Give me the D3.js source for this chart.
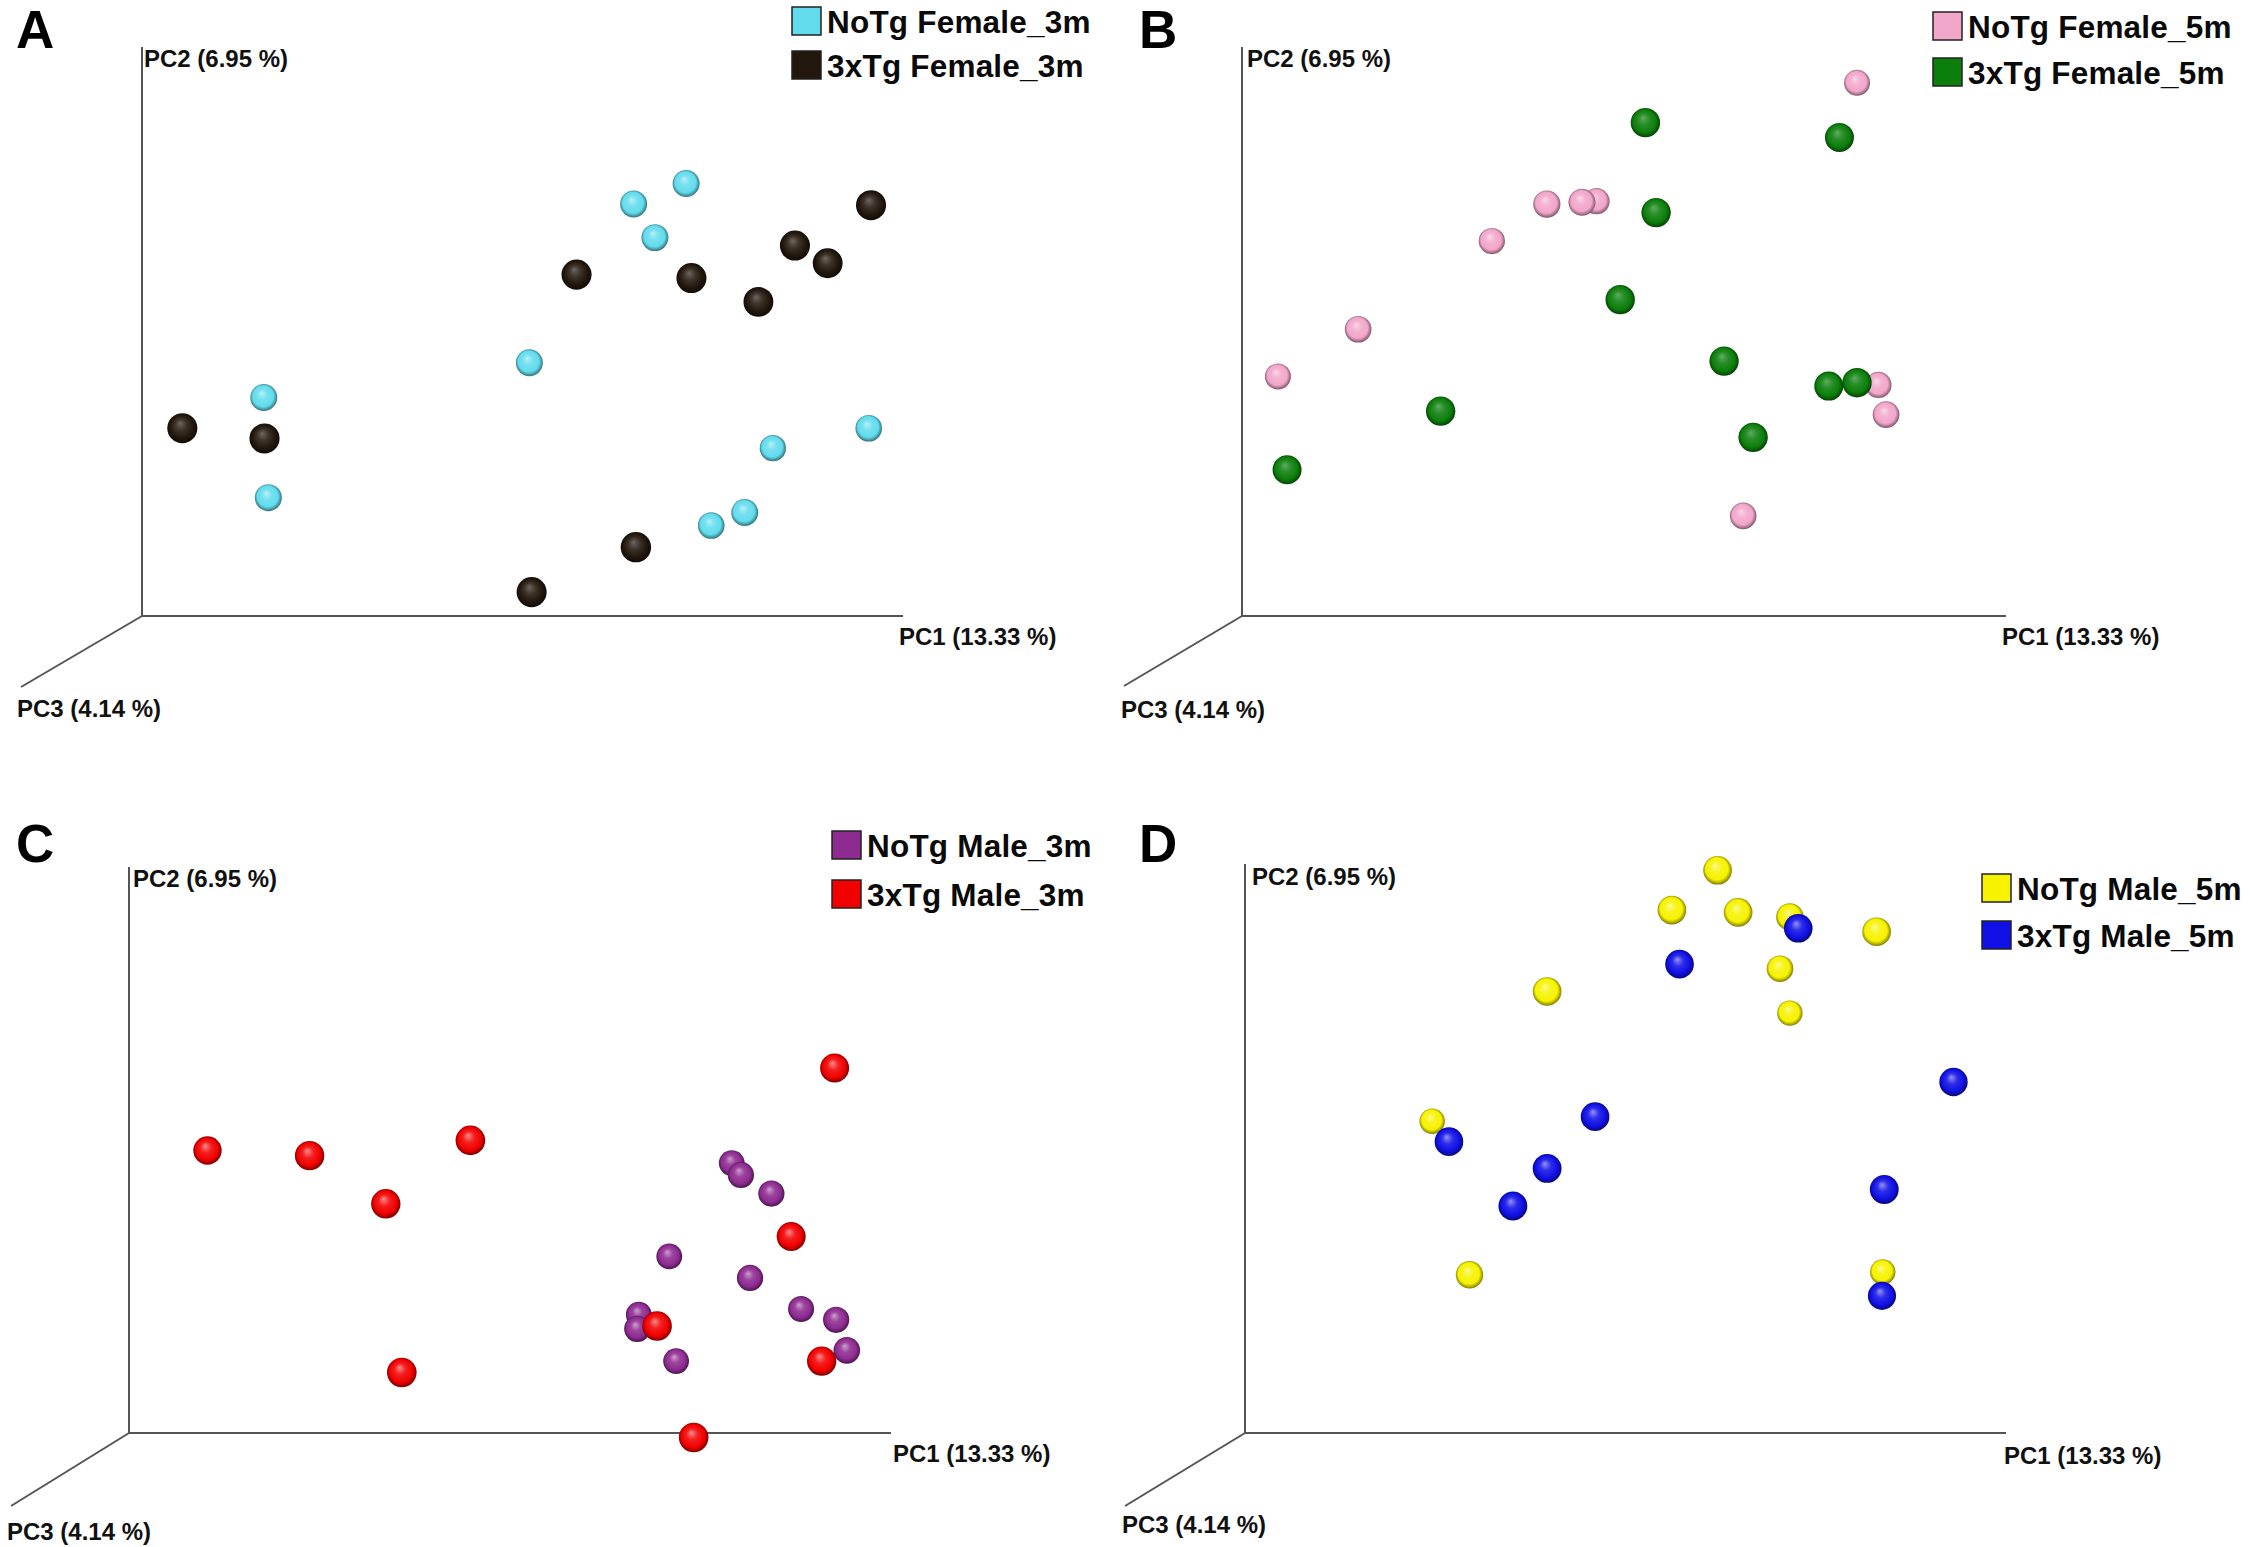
<!DOCTYPE html>
<html>
<head>
<meta charset="utf-8">
<script src="https://cdn.jsdelivr.net/npm/d3@7.9.0/dist/d3.min.js"></script>
<style>
  html, body { margin: 0; padding: 0; background: #fff; }
  svg { display: block; }
  text { font-family: "Liberation Sans", Arial, sans-serif; font-weight: bold; fill: #111; }
</style>
</head>
<body>
<svg id="chart" width="2250" height="1547"></svg>
<script>
// axis titles shared by all four panels
const axisTitles = { pc1: 'PC1 (13.33 %)', pc2: 'PC2 (6.95 %)', pc3: 'PC3 (4.14 %)' };
const panelLetters = ['A', 'B', 'C', 'D'];

// group names (legend order) per panel
const groupNames = [
  ['NoTg Female_3m', '3xTg Female_3m'],
  ['NoTg Female_5m', '3xTg Female_5m'],
  ['NoTg Male_3m', '3xTg Male_3m'],
  ['NoTg Male_5m', '3xTg Male_5m']
];
const groupColors = [
  ['#62dced', '#21170c'],
  ['#f2a6ca', '#0b7f0b'],
  ['#8e2b91', '#f20000'],
  ['#f6f200', '#1010e6']
];

// projected PCoA scores, [pc1, pc2, pc3], axis units 0-100
const noTgFemale3m = [
  [71.5, 76.0, 58], [64.6, 72.4, 58], [67.4, 66.5, 58], [50.9, 44.5, 58], [16.0, 38.4, 58],
  [16.6, 20.8, 58], [82.9, 29.5, 52], [79.2, 18.2, 58], [74.8, 15.9, 55], [95.5, 33.0, 55]
];
const tgFemale3m = [
  [95.8, 72.2, 84], [85.8, 65.1, 84], [90.1, 62.0, 82], [57.1, 60.0, 84], [72.2, 59.4, 84],
  [81.0, 55.2, 82], [5.3, 33.0, 84], [16.1, 31.2, 84], [64.9, 12.1, 87], [51.2, 4.2, 84]
];
const noTgFemale5m = [
  [80.5, 93.7, 50], [39.9, 72.4, 60], [44.5, 72.7, 58], [46.4, 72.9, 52], [32.7, 65.9, 52],
  [15.2, 50.4, 55], [4.7, 42.1, 50], [83.3, 40.6, 52], [84.3, 35.4, 56], [65.6, 17.6, 55]
];
const tgFemale5m = [
  [52.8, 86.7, 78], [78.2, 84.1, 75], [54.2, 70.9, 78], [49.5, 55.6, 78], [63.1, 44.8, 78],
  [76.8, 40.4, 75], [80.5, 41.0, 78], [26.0, 36.0, 78], [66.9, 31.4, 78], [5.9, 25.7, 75]
];
const noTgMale3m = [
  [79.1, 47.7, 48], [80.3, 45.6, 52], [84.3, 42.3, 52], [70.9, 31.2, 48], [81.5, 27.4, 52],
  [88.2, 21.9, 50], [92.8, 20.0, 52], [66.9, 20.9, 48], [66.7, 18.4, 52], [94.2, 14.6, 55],
  [71.8, 12.7, 48]
];
const tgMale3m = [
  [92.6, 64.5, 75], [10.3, 49.9, 70], [23.7, 49.0, 78], [44.8, 51.7, 80], [33.7, 40.5, 78],
  [86.9, 34.7, 75], [69.3, 18.9, 80], [90.9, 12.7, 78], [35.8, 10.7, 80], [74.1, -0.8, 80]
];
const noTgMale5m = [
  [62.1, 98.9, 72], [56.1, 91.9, 72], [64.8, 91.5, 72], [71.6, 90.7, 62], [83.0, 88.1, 72],
  [70.3, 81.6, 55], [71.6, 73.8, 45], [39.7, 77.6, 72], [24.6, 54.8, 45], [29.5, 27.8, 62],
  [83.8, 28.3, 45]
];
const tgMale5m = [
  [72.7, 88.7, 72], [57.1, 82.4, 72], [93.1, 61.7, 70], [46.0, 55.6, 72], [26.8, 51.2, 72],
  [39.7, 46.5, 74], [35.2, 39.9, 74], [84.0, 42.8, 74], [83.7, 24.1, 68]
];
const panelData = [
  [noTgFemale3m, tgFemale3m],
  [noTgFemale5m, tgFemale5m],
  [noTgMale3m, tgMale3m],
  [noTgMale5m, tgMale5m]
];

// panel frames (pixel layout)
const frames = [
  { ox: 142,  oy: 616,  xEnd: 903,  yTop: 47,  dx: 21,   dy: 687,
    pc1: [899, 645],  pc2: [144, 67],   pc3: [17, 717],    letter: [16, 48],
    legend: { x: 792, y: 7, step: 44, tx: 827 } },
  { ox: 1242, oy: 616,  xEnd: 2006, yTop: 47,  dx: 1124, dy: 686,
    pc1: [2002, 645], pc2: [1247, 67],  pc3: [1121, 718],  letter: [1139, 48],
    legend: { x: 1933, y: 12, step: 46, tx: 1968 } },
  { ox: 129,  oy: 1433, xEnd: 891,  yTop: 867, dx: 11,   dy: 1506,
    pc1: [893, 1462], pc2: [133, 887],  pc3: [7, 1540],    letter: [16, 862],
    legend: { x: 832, y: 831, step: 49, tx: 867 } },
  { ox: 1245, oy: 1433, xEnd: 2006, yTop: 864, dx: 1125, dy: 1506,
    pc1: [2004, 1464], pc2: [1252, 885], pc3: [1122, 1533], letter: [1139, 862],
    legend: { x: 1982, y: 874, step: 47, tx: 2017 } }
];

const svg = d3.select('#chart');
const defs = svg.append('defs');
const radius = d3.scaleLinear().domain([0, 100]).range([10, 16]);

// sphere-ish shading gradient for each colour
function gradientFor(color, id) {
  const base = d3.rgb(color);
  const hi = d3.interpolateRgb(base, '#ffffff')(base.r + base.g + base.b < 150 ? 0.35 : 0.55);
  const g = defs.append('radialGradient')
    .attr('id', id)
    .attr('cx', '50%').attr('cy', '50%').attr('r', '55%')
    .attr('fx', '42%').attr('fy', '33%');
  g.append('stop').attr('offset', '0%').attr('stop-color', hi);
  g.append('stop').attr('offset', '35%').attr('stop-color', d3.interpolateRgb(base, '#ffffff')(0.12));
  g.append('stop').attr('offset', '70%').attr('stop-color', base.toString());
  g.append('stop').attr('offset', '88%').attr('stop-color', base.darker(1.3).toString());
  g.append('stop').attr('offset', '100%').attr('stop-color', base.darker(3).toString());
  return `url(#${id})`;
}

panelLetters.forEach((letter, p) => {
  const f = frames[p];
  const g = svg.append('g');
  const x = d3.scaleLinear().domain([0, 100]).range([f.ox, f.xEnd]);
  const y = d3.scaleLinear().domain([0, 100]).range([f.oy, f.yTop]);

  // 3D axis frame
  const axisColor = '#555';
  g.append('line').attr('x1', f.ox).attr('y1', f.oy).attr('x2', f.xEnd).attr('y2', f.oy)
    .attr('stroke', axisColor).attr('stroke-width', 2);
  g.append('line').attr('x1', f.ox).attr('y1', f.oy).attr('x2', f.ox).attr('y2', f.yTop)
    .attr('stroke', axisColor).attr('stroke-width', 2);
  g.append('line').attr('x1', f.ox).attr('y1', f.oy).attr('x2', f.dx).attr('y2', f.dy)
    .attr('stroke', axisColor).attr('stroke-width', 2);

  g.append('text').attr('x', f.pc1[0]).attr('y', f.pc1[1]).attr('font-size', 24).text(axisTitles.pc1);
  g.append('text').attr('x', f.pc2[0]).attr('y', f.pc2[1]).attr('font-size', 24).text(axisTitles.pc2);
  g.append('text').attr('x', f.pc3[0]).attr('y', f.pc3[1]).attr('font-size', 24).text(axisTitles.pc3);

  g.append('text').attr('x', f.letter[0]).attr('y', f.letter[1])
    .attr('font-size', 53).style('fill', '#000').text(letter);

  // points, far ones first
  const pts = [];
  panelData[p].forEach((group, gi) => {
    const fill = gradientFor(groupColors[p][gi], `sph-${p}-${gi}`);
    group.forEach(d => pts.push({ pc1: d[0], pc2: d[1], pc3: d[2], fill }));
  });
  pts.sort((a, b) => a.pc3 - b.pc3);
  g.selectAll('circle.pt').data(pts).join('circle')
    .attr('class', 'pt')
    .attr('cx', d => x(d.pc1))
    .attr('cy', d => y(d.pc2))
    .attr('r', d => radius(d.pc3))
    .attr('fill', d => d.fill);

  // legend
  const lg = g.append('g');
  groupNames[p].forEach((name, gi) => {
    const ly = f.legend.y + gi * f.legend.step;
    lg.append('rect').attr('x', f.legend.x).attr('y', ly)
      .attr('width', 29).attr('height', 28)
      .attr('fill', groupColors[p][gi]).attr('stroke', '#222').attr('stroke-width', 1.5);
    lg.append('text').attr('x', f.legend.tx).attr('y', ly + 26)
      .attr('font-size', 31.5).attr('letter-spacing', 0.2)
      .style('fill', '#0a0a0a').text(name);
  });
});
</script>
</body>
</html>
